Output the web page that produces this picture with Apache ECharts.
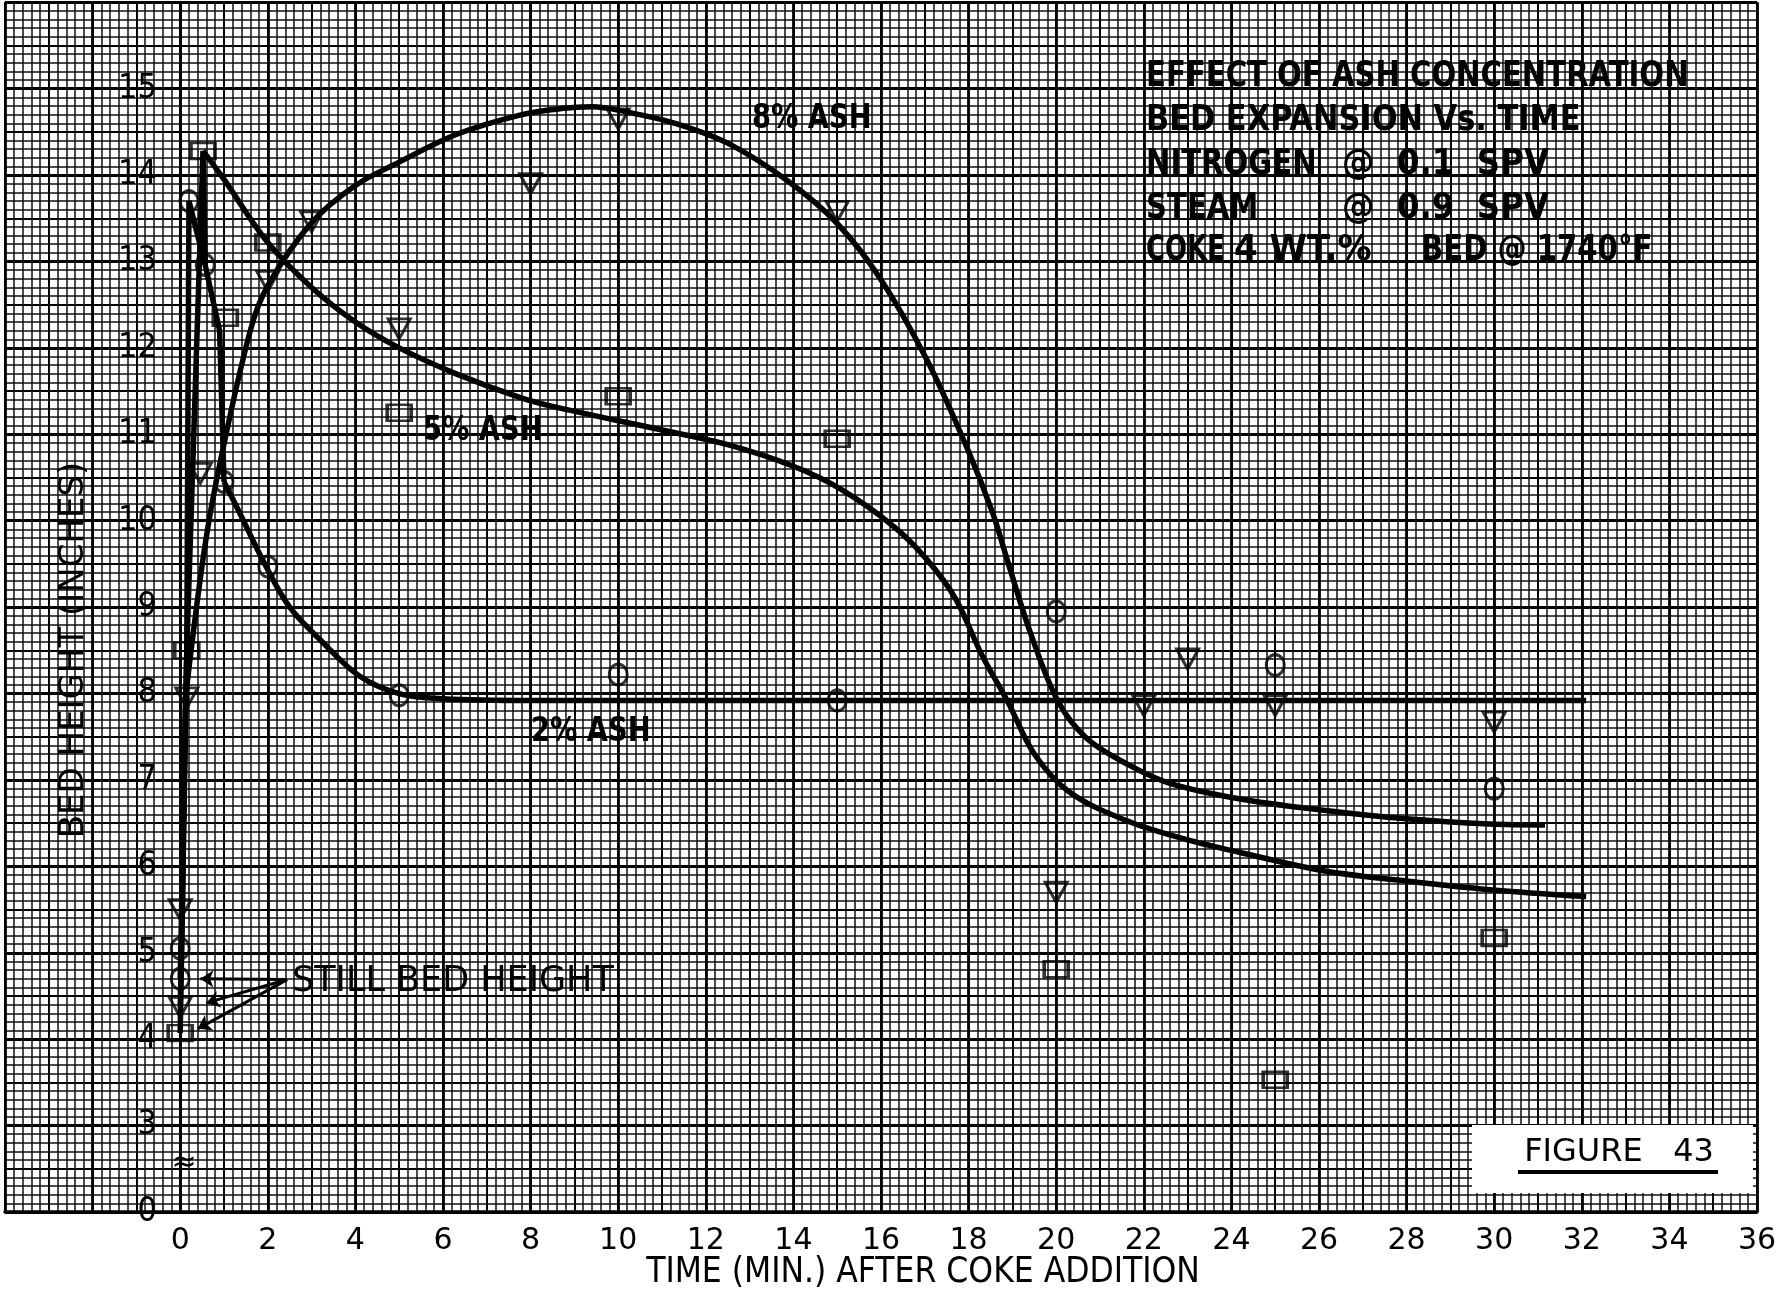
<!DOCTYPE html>
<html>
<head>
<meta charset="utf-8">
<title>Figure 43 - Bed expansion vs time</title>
<script src="https://cdn.jsdelivr.net/npm/echarts@6/dist/echarts.min.js"></script>
<style>
  html, body { margin: 0; padding: 0; background: #fff; }
  #chart { width: 1783px; height: 1295px; }
</style>
</head>
<body>
<div id="chart"></div>
<script>
// time after coke addition (min) vs bed height (in)

// plotted points
var ash2Points = [[0, 4.7], [0, 5.05], [0.2, 13.7], [0.57, 12.96], [1.0, 10.45], [2, 9.47], [5, 7.98], [10, 8.22], [15, 7.92], [20, 8.95], [25, 8.33], [30, 6.9]];
var ash5Points = [[0, 4.07], [0.15, 8.5], [0.52, 14.28], [1.03, 12.35], [2, 13.22], [5, 11.25], [10, 11.44], [15, 10.95], [20, 4.81], [25, 3.53], [30, 5.17]];
var ash8Points = [[0, 4.37], [0, 5.5], [0.15, 7.95], [0.46, 10.55], [2, 12.77], [3, 13.46], [5, 12.22], [8, 13.9], [10, 14.65], [15, 13.58], [20, 5.7], [22, 7.86], [23, 8.4], [25, 7.86], [30, 7.67]];

// hand drawn lines: straight start-up legs, then the faired curves
var ash2Start = [[0, 4.7], [0.15, 8.5], [0.2, 13.7], [0.57, 12.96], [0.9, 12.2], [1.0, 10.45]];
var ash2Curve = [[1.0, 10.45], [1.3, 10.15], [1.94, 9.49], [2.5, 9.0], [3.2, 8.62], [4.1, 8.2], [5, 8.0], [6, 7.94], [8, 7.92], [14, 7.92], [20, 7.92], [26, 7.92], [32.1, 7.92]];

var ash5Start = [[0, 4.07], [0.15, 8.5], [0.52, 14.28], [0.57, 12.96]];
var ash5Curve = [[0.52, 14.28], [1.0, 13.95], [2, 13.22], [3, 12.7], [4, 12.3], [5, 12.0], [6.3, 11.7], [7.8, 11.42], [8.7, 11.3], [11, 11.05], [12.5, 10.88], [14, 10.63], [15.1, 10.36], [16.3, 9.93], [17.05, 9.55], [17.7, 9.1], [18.3, 8.45], [18.9, 7.9], [19.5, 7.3], [20.3, 6.86], [21.6, 6.53], [22.9, 6.32], [24.2, 6.16], [26.1, 5.95], [28, 5.83], [29.9, 5.73], [32.1, 5.65]];

var ash8Start = [[0, 4.37], [0.05, 5.5], [0.12, 7.95]];
var ash8Curve = [[0.12, 7.95], [0.55, 9.66], [0.91, 10.67], [1.6, 12.2], [2, 12.72], [3, 13.45], [4, 13.88], [5, 14.15], [6.3, 14.47], [7.8, 14.7], [8.7, 14.77], [9.4, 14.79], [10.2, 14.73], [11.3, 14.6], [12.5, 14.37], [13.85, 13.94], [15, 13.44], [16, 12.79], [17.05, 11.86], [17.95, 10.86], [18.55, 10.09], [18.88, 9.55], [19.4, 8.72], [20.04, 7.91], [20.7, 7.48], [21.6, 7.19], [22.6, 6.96], [24.2, 6.78], [26.1, 6.65], [28, 6.55], [29.9, 6.49], [31.16, 6.48]];

// "still bed height" arrows: [from, to]
var stillBedArrows = [[[2.44, 4.69], [0.46, 4.7]], [[2.44, 4.69], [0.6, 4.42]], [[2.44, 4.69], [0.4, 4.12]]];

// axis: the 0-3 part of the height scale is broken, bottom line is drawn as 0
var yBrokenZero = 2;
var titleLines = ['EFFECT OF ASH CONCENTRATION', 'BED EXPANSION Vs. TIME'];

var chart = echarts.init(document.getElementById('chart'));

var ink = '#000';
var cond = '"DejaVu Sans Condensed", "DejaVu Sans", sans-serif';
var sans = '"DejaVu Sans", sans-serif';
var curveStyle = { color: ink, width: 5.5 };
var hollow = { color: 'transparent', borderColor: ink, borderWidth: 3 };

function curve(data, smooth) {
  return {
    type: 'line', data: data, smooth: smooth ? 0.35 : false, symbol: 'none',
    lineStyle: curveStyle, z: 3, silent: true
  };
}
function marks(data, symbol, size, rotate) {
  return {
    type: 'scatter', data: data, symbol: symbol, symbolSize: size,
    symbolRotate: rotate || 0, itemStyle: hollow, z: 4, silent: true
  };
}

var arrows = marks([], 'none', 1);
arrows.markLine = {
  silent: true,
  symbol: ['none', 'arrow'],
  symbolSize: 13,
  label: { show: false },
  lineStyle: { color: ink, width: 3, type: 'solid' },
  data: stillBedArrows.map(function (a) {
    return [{ coord: a[0] }, { coord: a[1] }];
  })
};

var option = {
  animation: false,
  backgroundColor: '#fff',
  grid: { left: 5, right: 26, top: 2.3, bottom: 83 },
  xAxis: [
    {
      type: 'value', min: -4, max: 36, interval: 2,
      axisLine: { lineStyle: { color: ink, width: 3.5 } },
      axisTick: { show: false },
      axisLabel: {
        color: ink, fontSize: 30, fontFamily: sans, margin: 14,
        formatter: function (v) { return v < 0 ? '' : String(v); }
      },
      splitLine: { show: true, lineStyle: { color: ink, width: 2.8 } },
      minorTick: { show: false, splitNumber: 10 },
      minorSplitLine: { show: true, lineStyle: { color: '#111', width: 1.5 } }
    },
    {
      type: 'value', min: -4, max: 36, interval: 1, position: 'top',
      axisLine: { show: false }, axisTick: { show: false }, axisLabel: { show: false },
      splitLine: { show: true, lineStyle: { color: ink, width: 2 } }
    }
  ],
  yAxis: [
    {
      type: 'value', min: yBrokenZero, max: 16, interval: 1,
      axisLine: { show: true, lineStyle: { color: ink, width: 3 } },
      axisTick: { show: false },
      axisLabel: {
        inside: true, align: 'right', margin: 152,
        color: ink, fontSize: 34, fontFamily: cond,
        formatter: function (v) {
          if (v === yBrokenZero) return '0';
          if (v >= 16) return '';
          return String(v);
        }
      },
      splitLine: { show: true, lineStyle: { color: ink, width: 2.8 } },
      minorTick: { show: false, splitNumber: 10 },
      minorSplitLine: { show: true, lineStyle: { color: '#111', width: 1.5 } }
    },
    {
      type: 'value', min: yBrokenZero, max: 16, interval: 0.5, position: 'right',
      axisLine: { show: false }, axisTick: { show: false }, axisLabel: { show: false },
      splitLine: { show: true, lineStyle: { color: ink, width: 2 } }
    }
  ],
  series: [
    curve(ash2Start, false), curve(ash2Curve, true),
    curve(ash5Start, false), curve(ash5Curve, true),
    curve(ash8Start, false), curve(ash8Curve, true),
    marks(ash2Points, 'circle', [18, 21]),
    marks(ash5Points, 'rect', [24, 16]),
    marks(ash8Points, 'triangle', [22, 20], 180),
    arrows
  ],
  graphic: []
};

function txt(text, x, y, size, opts) {
  opts = opts || {};
  return {
    type: 'text', x: x, y: y, z: 100, silent: true,
    rotation: opts.rotation || 0,
    scaleX: opts.scaleX || 1,
    style: {
      text: text, fill: ink,
      fontSize: size, fontFamily: opts.family || cond, fontWeight: opts.weight || 'normal',
      textAlign: opts.align || 'left', align: opts.align || 'left',
      textVerticalAlign: 'middle', verticalAlign: 'middle'
    }
  };
}

var note = { weight: 'bold', scaleX: 0.9 };
option.graphic = [
  // note block, upper right
  txt(titleLines[0], 1146, 77, 36, note),
  txt(titleLines[1], 1146, 121, 36, { weight: 'bold', scaleX: 0.94 }),
  txt('NITROGEN', 1146, 165, 36, note),
  txt('@  0.1  SPV', 1342, 165, 36, { weight: 'bold', scaleX: 1.0 }),
  txt('STEAM', 1146, 209, 36, note),
  txt('@  0.9  SPV', 1342, 209, 36, { weight: 'bold', scaleX: 1.0 }),
  txt('COKE', 1146, 251, 36, { weight: 'bold', scaleX: 0.8 }),
  txt('4 WT.%', 1234, 251, 36, { weight: 'bold', scaleX: 1.05 }),
  txt('BED @ 1740°F', 1421, 251, 36, note),
  // curve labels
  txt('8% ASH', 752, 119, 33, { weight: 'bold', scaleX: 0.92 }),
  txt('5% ASH', 423, 431, 33, { weight: 'bold', scaleX: 0.92 }),
  txt('2% ASH', 531, 732, 33, { weight: 'bold', scaleX: 0.92 }),
  txt('STILL BED HEIGHT', 292, 982, 35, { family: sans }),
  // axis break
  txt('≈', 184, 1163, 30, { family: sans, align: 'center' }),
  // axis titles
  txt('TIME (MIN.) AFTER COKE ADDITION', 923, 1273, 35, { align: 'center' }),
  txt('BED HEIGHT (INCHES)', 74, 650, 34, { family: sans, align: 'center', rotation: Math.PI / 2 }),
  // figure box
  {
    type: 'rect', z: 90, silent: true,
    shape: { x: 1472, y: 1125, width: 281, height: 68 },
    style: { fill: '#fff' }
  },
  txt('FIGURE   43', 1619, 1153, 32, { family: sans, align: 'center' }),
  {
    type: 'rect', z: 100, silent: true,
    shape: { x: 1518, y: 1170, width: 200, height: 4 },
    style: { fill: ink }
  }
];

chart.setOption(option);
</script>
</body>
</html>
